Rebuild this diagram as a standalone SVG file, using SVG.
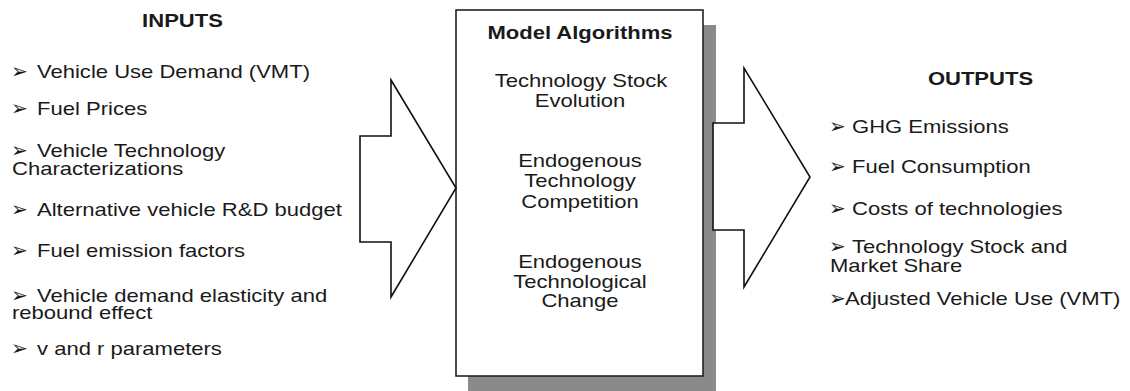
<svg xmlns="http://www.w3.org/2000/svg" width="1130" height="391" viewBox="0 0 1130 391">
  <style>
    .t { font-family: "Liberation Sans", Arial, sans-serif; font-size: 19px; fill: #1a1a1a; }
    .h { font-family: "Liberation Sans", Arial, sans-serif; font-size: 19px; font-weight: bold; fill: #1a1a1a; }
    .c { text-anchor: middle; }
    .b { font-family: "DejaVu Sans", sans-serif; font-size: 20px; fill: #1a1a1a; }
    .arrow { fill: #ffffff; stroke: #111111; stroke-width: 1.6; stroke-linejoin: miter; }
    .box { fill: #ffffff; stroke: #222222; stroke-width: 1.6; }
    .shadow { fill: #8a8a8a; }
  </style>

  <rect width="1130" height="391" fill="#ffffff"/>

  <!-- Inputs list -->
  <g id="inputs">
    <text class="h c" transform="matrix(1.16 0 0 1 182.5 27)">INPUTS</text>
    <text class="b" x="11" y="78">➢</text>
    <text class="t" transform="matrix(1.16 0 0 1 37 78)">Vehicle Use Demand (VMT)</text>
    <text class="b" x="11" y="115">➢</text>
    <text class="t" transform="matrix(1.16 0 0 1 37 115)">Fuel Prices</text>
    <text class="b" x="11" y="157">➢</text>
    <text class="t" transform="matrix(1.16 0 0 1 37 157)">Vehicle Technology</text>
    <text class="t" transform="matrix(1.16 0 0 1 12 175)">Characterizations</text>
    <text class="b" x="11" y="216">➢</text>
    <text class="t" transform="matrix(1.16 0 0 1 37 216)">Alternative vehicle R&amp;D budget</text>
    <text class="b" x="11" y="257">➢</text>
    <text class="t" transform="matrix(1.16 0 0 1 37 257)">Fuel emission factors</text>
    <text class="b" x="11" y="302">➢</text>
    <text class="t" transform="matrix(1.16 0 0 1 37 302)">Vehicle demand elasticity and</text>
    <text class="t" transform="matrix(1.16 0 0 1 12 319)">rebound effect</text>
    <text class="b" x="11" y="355">➢</text>
    <text class="t" transform="matrix(1.16 0 0 1 37 355)">v and r parameters</text>
  </g>

  <!-- Central model box with drop shadow -->
  <g id="model">
    <rect class="shadow" x="468" y="25" width="248" height="370"/>
    <rect class="box" x="456" y="10" width="247" height="366"/>
    <text class="h c" transform="matrix(1.16 0 0 1 580 39)">Model Algorithms</text>
    <text class="t c" transform="matrix(1.16 0 0 1 581 87)">Technology Stock</text>
    <text class="t c" transform="matrix(1.16 0 0 1 580 107)">Evolution</text>
    <text class="t c" transform="matrix(1.16 0 0 1 580 167)">Endogenous</text>
    <text class="t c" transform="matrix(1.16 0 0 1 580 187)">Technology</text>
    <text class="t c" transform="matrix(1.16 0 0 1 580 208)">Competition</text>
    <text class="t c" transform="matrix(1.16 0 0 1 580 268)">Endogenous</text>
    <text class="t c" transform="matrix(1.16 0 0 1 580 288)">Technological</text>
    <text class="t c" transform="matrix(1.16 0 0 1 580 307)">Change</text>
  </g>

  <!-- Block arrows in and out of the model -->
  <g id="connectors">
    <polygon class="arrow" points="360,136 391,136 391,80 456,188 391,297 391,242 360,242"/>
    <polygon class="arrow" points="713,123 744,123 744,68 810,177 744,287 744,230 713,230"/>
  </g>

  <!-- Outputs list -->
  <g id="outputs">
    <text class="h c" transform="matrix(1.16 0 0 1 980.5 85)">OUTPUTS</text>
    <text class="b" x="829" y="133">➢</text>
    <text class="t" transform="matrix(1.16 0 0 1 852 133)">GHG Emissions</text>
    <text class="b" x="829" y="173">➢</text>
    <text class="t" transform="matrix(1.16 0 0 1 852 173)">Fuel Consumption</text>
    <text class="b" x="829" y="215">➢</text>
    <text class="t" transform="matrix(1.16 0 0 1 852 215)">Costs of technologies</text>
    <text class="b" x="829" y="253">➢</text>
    <text class="t" transform="matrix(1.16 0 0 1 852 253)">Technology Stock and</text>
    <text class="t" transform="matrix(1.16 0 0 1 830 272)">Market Share</text>
    <text class="b" x="829" y="305">➢</text>
    <text class="t" transform="matrix(1.16 0 0 1 845 305)">Adjusted Vehicle Use (VMT)</text>
  </g>
</svg>
